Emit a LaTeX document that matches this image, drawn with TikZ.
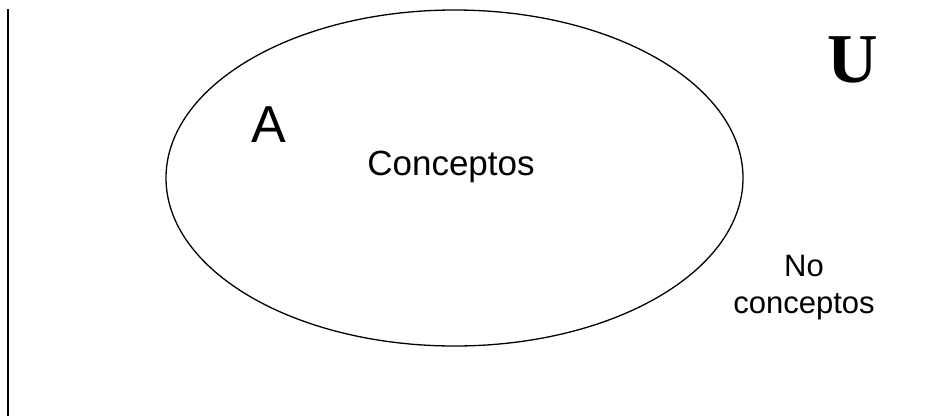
\documentclass[tikz,border=0pt]{standalone}
\usepackage{fontspec}
\setmainfont{Liberation Sans}
\newfontfamily\serifU{Liberation Serif}
\begin{document}
\begin{tikzpicture}[x=1pt,y=-1pt,
  lbl/.style={inner sep=0pt, anchor=base, align=center}]
\useasboundingbox (0,0) rectangle (925,416);
\draw[line width=1.3pt] (454.5,178) ellipse [x radius=288.5, y radius=168];
\coordinate (ltop) at (7.5,9);
\coordinate (lbot) at (7.5,416);
\draw[line width=2pt] (ltop) -- (lbot);
\node[lbl, font=\fontsize{52}{60}\selectfont] (setA) at (268.5,142) {A};
\node[lbl, font=\fontsize{35}{40}\selectfont] (conc) at (451,175) {Conceptos};
\node[lbl, font=\serifU\bfseries\fontsize{70}{80}\selectfont] (univ) at (853,82) {U};
\node[lbl, font=\fontsize{31}{37}\selectfont] (noconc) at (804,313) {No\\conceptos};
\end{tikzpicture}
\end{document}
